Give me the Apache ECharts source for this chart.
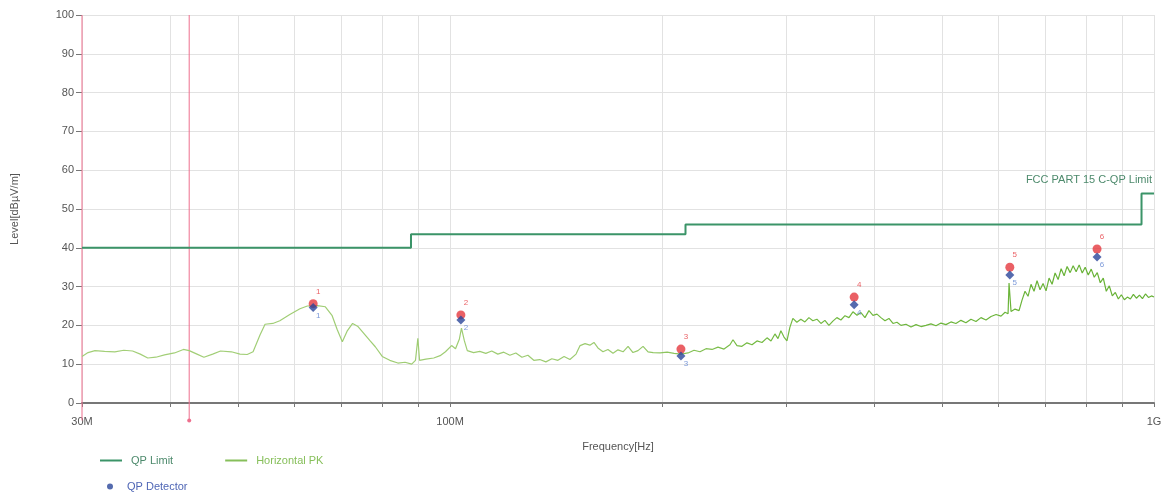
<!DOCTYPE html>
<html>
<head>
<meta charset="UTF-8">
<title>Radiated Emission</title>
<script src="https://cdn.jsdelivr.net/npm/echarts@6/dist/echarts.min.js"></script>
<style>
  html, body { margin: 0; padding: 0; background: #fff; }
  #chart { width: 1169px; height: 496px; }
</style>
</head>
<body>
<div id="chart"></div>
<script>
// frequencies in MHz, levels in dBuV/m
var gridFreq = [30, 40, 50, 60, 70, 80, 90, 100, 200, 300, 400, 500, 600, 700, 800, 900, 1000];
var tickFreq = [30, 100, 1000];
var tickLabels = ['30M', '100M', '1G'];

var limitFreq = [30, 88, 216, 960, 1000];
var limitLevel = [40, 43.5, 46, 54, 54];

var cursorFreq = [30, 42.6];

var markerFreq = [63.9, 103.6, 212.8, 375, 624, 830];
var peakLevel = [25.6, 22.7, 13.9, 27.3, 35.0, 39.7];
var qpLevel = [24.6, 21.4, 12.1, 25.3, 33.0, 37.6];

var traceFreq = [
  30.0, 30.6, 31.3, 32.3, 33.4, 34.4, 35.4, 36.3, 37.2, 38.2, 39.3, 40.6, 41.8, 42.6, 43.7, 44.7,
  46.0, 47.2, 48.9, 50.3, 51.5, 52.5, 53.7, 54.6, 56.0, 57.3, 59.2, 61.2, 62.7, 64.8, 66.5, 68.0,
  69.1, 70.3, 71.4, 72.7, 73.9, 75.2, 77.0, 78.3, 80.1, 82.1, 84.3, 86.3, 88.2, 89.3, 90.0, 90.5,
  92.4, 94.8, 96.8, 98.5, 100.5, 101.8, 103.1, 103.8, 104.8, 105.8, 108.0, 110.2, 112.4, 114.6,
  116.9, 119.2, 121.6, 124.0, 126.5, 129.0, 131.5, 134.1, 136.8, 139.5, 142.3, 145.2, 148.0, 151.0,
  153.0, 155.5, 158.0, 160.1, 162.2, 164.9, 167.6, 170.4, 173.2, 176.1, 179.0, 181.9, 184.9, 188.0,
  191.1, 194.3, 198.8, 203.4, 208.1, 212.9, 217.8, 222.1, 226.5, 231.0, 235.6, 240.2, 245.0, 249.8,
  252.3, 255.6, 259.8, 264.1, 268.5, 272.9, 277.4, 282.0, 285.7, 289.4, 292.3, 295.1, 298.1, 301.0,
  303.9, 306.9, 310.9, 315.0, 319.2, 323.4, 327.6, 332.0, 336.4, 340.8, 345.3, 349.8, 354.4, 359.1,
  363.9, 368.7, 373.5, 378.5, 383.4, 388.5, 393.6, 398.8, 404.1, 409.3, 414.8, 420.2, 425.8, 431.4,
  437.1, 444.3, 451.6, 459.1, 466.6, 474.3, 482.1, 490.1, 498.2, 506.3, 514.7, 523.1, 531.8, 540.5,
  549.5, 558.6, 567.8, 577.2, 586.8, 596.5, 606.3, 614.3, 620.4, 622.4, 626.5, 634.7, 643.1, 649.4,
  655.8, 662.3, 668.8, 675.4, 682.1, 688.8, 695.7, 702.5, 709.5, 716.5, 723.6, 730.8, 738.0, 745.3,
  752.6, 760.1, 767.6, 775.2, 782.9, 790.7, 798.5, 806.4, 814.4, 822.4, 830.6, 838.8, 847.1, 855.5,
  864.0, 872.5, 881.2, 889.9, 898.7, 907.6, 916.6, 925.7, 934.8, 944.1, 953.5, 962.9, 972.4, 982.0,
  991.8, 1000
];
var traceLevel = [
  12.0, 13.0, 13.5, 13.3, 13.2, 13.6, 13.4, 12.6, 11.6, 11.8, 12.4, 12.9, 13.8, 13.5, 12.6, 11.8,
  12.6, 13.4, 13.2, 12.6, 12.5, 13.2, 17.5, 20.3, 20.5, 21.2, 22.8, 24.3, 25.0, 25.1, 24.8, 22.5,
  19.0, 15.8, 18.5, 20.5, 19.8, 18.2, 16.0, 14.5, 12.0, 11.0, 10.3, 10.5, 10.0, 11.0, 16.7, 11.0,
  11.3, 11.6, 12.2, 13.2, 14.8, 14.0, 16.5, 19.3, 16.0, 13.5, 13.0, 13.3, 12.8, 13.4,
  12.6, 13.1, 12.3, 12.9, 11.8, 12.3, 11.0, 11.2, 10.6, 11.4, 11.0, 12.0, 11.2, 12.6,
  14.8, 15.3, 14.9, 15.6, 14.2, 13.2, 13.8, 12.8, 13.7, 13.2, 14.6, 13.0, 13.5, 14.6,
  13.2, 13.0, 12.9, 13.1, 12.8, 12.6, 12.9, 13.6, 13.2, 14.0, 13.8, 14.4, 13.9, 15.0,
  16.3, 14.8, 14.6, 15.5, 15.0, 16.0, 15.6, 16.8, 16.0, 17.8, 16.6, 18.6, 17.0, 16.0,
  19.5, 21.8, 20.8, 21.6, 20.9, 22.0, 21.2, 21.6, 20.5, 21.3, 20.0, 21.1, 22.0, 21.4,
  22.5, 22.0, 23.5, 22.6, 23.3, 22.0, 23.8, 22.6, 22.9, 22.0, 21.2, 21.8, 20.5, 20.8,
  20.0, 20.3, 19.6, 20.2, 19.7, 20.0, 20.4, 19.9, 20.6, 20.2, 20.9, 20.5, 21.3, 20.7,
  21.6, 21.0, 22.0, 21.4, 22.3, 22.8, 22.4, 23.4, 23.0, 30.9, 23.6, 24.2, 23.8, 26.5,
  28.8, 27.5, 30.6, 28.8, 31.5, 29.2, 30.8, 28.9, 32.2, 30.6, 33.5, 31.8, 34.6, 32.8,
  35.2, 33.6, 35.4, 33.8, 35.6, 33.5, 35.0, 33.0, 34.5, 32.4, 33.6, 31.0, 32.2, 28.8,
  30.2, 27.6, 28.5, 26.8, 27.9, 26.6, 27.3, 26.8, 28.0, 27.0, 27.8, 26.9, 28.1, 27.2,
  27.6, 27.3
];

var lg = function (f) { return Math.log10(f); };
var pairs = function (fs, vs) { return fs.map(function (f, i) { return [lg(f), vs[i]]; }); };

var txt = '#555';
var limitColor = '#3b9468';
var qpColor = '#2a469a';
var redColor = '#e5383e';
var cursorColor = '#ee6f8d';

var cursorSeries = cursorFreq.map(function (f) {
  return {
    type: 'line',
    silent: true,
    clip: false,
    z: 3,
    lineStyle: { color: cursorColor, width: 1 },
    itemStyle: { color: cursorColor },
    data: [
      { value: [lg(f), -4.5], symbol: f === 30 ? 'none' : 'circle', symbolSize: 4 },
      { value: [lg(f), 100], symbol: 'none' }
    ]
  };
});

var chart = echarts.init(document.getElementById('chart'));
var option = {
  animation: false,
  textStyle: { fontFamily: 'Liberation Sans, Arial, sans-serif' },
  grid: { left: 82, right: 15, top: 15, bottom: 93 },
  legend: [{
    left: 95, top: 450, itemGap: 52, itemWidth: 22, itemHeight: 2, icon: 'rect',
    textStyle: { fontSize: 11, padding: [0, 0, 0, 4] },
    data: [
      { name: 'QP Limit', textStyle: { color: '#4d8a6c' } },
      { name: 'Horizontal PK', textStyle: { color: '#86bf5a' } }
    ]
  }, {
    left: 102, top: 476, itemWidth: 6, itemHeight: 6, icon: 'circle',
    textStyle: { fontSize: 11, padding: [0, 0, 0, 9] },
    data: [{ name: 'QP Detector', textStyle: { color: '#4f66b5' } }]
  }],
  xAxis: {
    type: 'value',
    min: lg(30),
    max: 3,
    name: 'Frequency[Hz]',
    nameLocation: 'middle',
    nameGap: 38,
    nameTextStyle: { color: txt, fontSize: 11 },
    axisLine: { show: true, lineStyle: { color: '#777', width: 2 } },
    axisTick: { show: true, length: 4, customValues: gridFreq.map(lg), lineStyle: { color: '#777' } },
    axisLabel: {
      customValues: tickFreq.map(lg),
      color: txt, fontSize: 11, margin: 13,
      formatter: function (v) {
        var best = 0;
        tickFreq.forEach(function (f, i) { if (Math.abs(lg(f) - v) < Math.abs(lg(tickFreq[best]) - v)) best = i; });
        return tickLabels[best];
      }
    },
    splitLine: { show: true, lineStyle: { color: '#e2e2e2', width: 1 } }
  },
  yAxis: {
    type: 'value',
    min: 0,
    max: 100,
    interval: 10,
    name: 'Level[dBµV/m]',
    nameLocation: 'middle',
    nameGap: 62,
    nameTextStyle: { color: txt, fontSize: 11 },
    axisLine: { show: false },
    axisTick: { show: true, length: 6, lineStyle: { color: '#777' } },
    axisLabel: { color: txt, fontSize: 11, margin: 8 },
    splitLine: { show: true, lineStyle: { color: '#e2e2e2', width: 1 } }
  },
  series: cursorSeries.concat([
    {
      name: 'QP Limit',
      type: 'line',
      step: 'end',
      showSymbol: false,
      z: 4,
      lineStyle: { color: limitColor, width: 2 },
      itemStyle: { color: limitColor },
      data: pairs(limitFreq, limitLevel),
      markPoint: {
        symbol: 'circle', symbolSize: 0, silent: true,
        label: {
          show: true, position: 'left', distance: 2,
          formatter: 'FCC PART 15 C-QP Limit',
          color: '#4d8a6c', fontSize: 11
        },
        data: [{ coord: [3, 57.4] }]
      }
    },
    {
      name: 'Horizontal PK',
      type: 'line',
      showSymbol: false,
      z: 5,
      lineStyle: {
        width: 1.2,
        color: new echarts.graphic.LinearGradient(0, 0, 1, 0, [
          { offset: 0, color: '#a3cf78' },
          { offset: 0.5, color: '#9ccb70' },
          { offset: 0.62, color: '#74ba42' },
          { offset: 1, color: '#66b135' }
        ])
      },
      itemStyle: { color: '#86bf5a' },
      data: pairs(traceFreq, traceLevel)
    },
    {
      name: 'PK Marker',
      type: 'scatter',
      symbol: 'circle',
      symbolSize: 9,
      z: 6,
      itemStyle: { color: redColor },
      label: {
        show: true, position: 'inside', offset: [5, -12],
        color: redColor, fontSize: 8,
        formatter: function (p) { return String(p.dataIndex + 1); }
      },
      data: pairs(markerFreq, peakLevel)
    },
    {
      name: 'QP Detector',
      type: 'scatter',
      symbol: 'diamond',
      symbolSize: 9,
      z: 7,
      itemStyle: { color: qpColor },
      label: {
        show: true, position: 'inside', offset: [5, 8],
        color: '#5a7fd0', fontSize: 8,
        formatter: function (p) { return String(p.dataIndex + 1); }
      },
      data: pairs(markerFreq, qpLevel)
    }
  ])
};
chart.setOption(option);
</script>
</body>
</html>
